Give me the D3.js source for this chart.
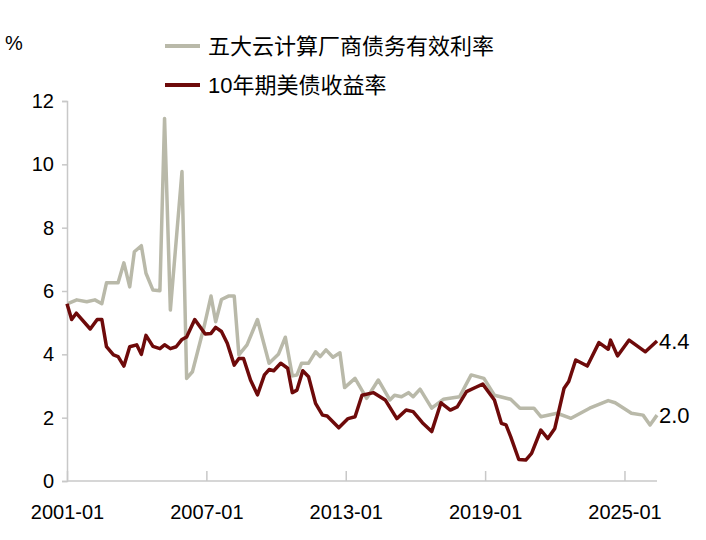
<!DOCTYPE html>
<html><head><meta charset="utf-8">
<script src="https://cdn.jsdelivr.net/npm/d3@7"></script>
<style>body{margin:0;background:#fff}text{font-family:Arial,"Liberation Sans","Noto Sans CJK SC",sans-serif}</style>
</head><body><svg id="c" width="706" height="540"></svg>
<script>
// decimal years
const cloudYears = [2001.06,2001.42,2001.85,2002.2,2002.5,2002.7,2003.2,2003.45,2003.7,2003.9,2004.2,2004.4,2004.7,2005.0,2005.2,2005.45,2005.95,2006.15,2006.4,2006.9,2007.2,2007.4,2007.65,2007.95,2008.2,2008.4,2008.75,2009.2,2009.7,2010.1,2010.4,2010.7,2010.9,2011.1,2011.4,2011.7,2011.9,2012.15,2012.45,2012.75,2012.95,2013.4,2013.9,2014.4,2014.9,2015.1,2015.4,2015.7,2015.9,2016.2,2016.7,2017.2,2017.9,2018.4,2018.95,2019.4,2020.1,2020.5,2021.1,2021.4,2022.1,2022.7,2023.5,2024.3,2024.6,2025.3,2025.8,2026.1,2026.4];
const cloudRate = [5.61,5.72,5.66,5.72,5.6,6.26,6.26,6.89,6.13,7.24,7.43,6.56,6.03,6.01,11.45,5.4,9.77,3.24,3.45,4.87,5.84,5.03,5.73,5.84,5.84,3.98,4.3,5.1,3.72,4.0,4.54,3.32,3.35,3.72,3.72,4.08,3.93,4.14,3.91,4.05,2.95,3.24,2.61,3.19,2.56,2.71,2.66,2.79,2.66,2.9,2.3,2.58,2.66,3.35,3.24,2.71,2.58,2.3,2.3,2.03,2.14,1.98,2.3,2.54,2.47,2.14,2.08,1.77,2.08];
const ustYears = [2001.0,2001.2,2001.4,2002.0,2002.3,2002.5,2002.7,2003.0,2003.2,2003.45,2003.7,2004.0,2004.2,2004.4,2004.7,2005.0,2005.2,2005.45,2005.7,2005.95,2006.15,2006.5,2006.95,2007.2,2007.4,2007.65,2007.9,2008.2,2008.4,2008.6,2008.9,2009.2,2009.5,2009.7,2009.9,2010.2,2010.5,2010.7,2010.9,2011.15,2011.4,2011.7,2012.0,2012.2,2012.7,2013.1,2013.4,2013.7,2014.2,2014.7,2015.2,2015.6,2015.9,2016.3,2016.7,2017.1,2017.5,2017.8,2018.2,2018.6,2018.9,2019.4,2019.7,2019.9,2020.1,2020.45,2020.75,2021.0,2021.4,2021.7,2022.0,2022.4,2022.6,2022.9,2023.4,2023.9,2024.3,2024.4,2024.7,2025.2,2025.9,2026.4];
const ustYield = [5.6,5.1,5.3,4.8,5.1,5.1,4.24,3.98,3.93,3.63,4.24,4.3,4.0,4.6,4.25,4.18,4.3,4.18,4.24,4.47,4.55,5.1,4.64,4.66,4.85,4.72,4.35,3.66,3.87,3.87,3.19,2.72,3.35,3.52,3.48,3.72,3.56,2.79,2.87,3.48,3.29,2.45,2.08,2.05,1.68,1.97,2.03,2.71,2.79,2.56,1.97,2.24,2.19,1.84,1.56,2.47,2.24,2.34,2.82,2.96,3.06,2.56,1.82,1.77,1.4,0.68,0.66,0.87,1.61,1.34,1.66,2.93,3.14,3.82,3.63,4.37,4.16,4.45,3.95,4.45,4.08,4.42];
const xTicks = [2001,2007,2013,2019,2025];
const xTickLabels = ["2001-01","2007-01","2013-01","2019-01","2025-01"];
const yTicks = [0,2,4,6,8,10,12];
const seriesNames = ["五大云计算厂商债务有效利率","10年期美债收益率"];
const endLabels = ["2.0","4.4"];

const svg = d3.select("#c");
const x = d3.scaleLinear().domain([2001,2026.4]).range([67,657]);
const y = d3.scaleLinear().domain([0,12]).range([481,101]);
const axisColor = "#c8c8c8";

const ya = svg.append("g").attr("transform","translate(67,0)")
  .call(d3.axisLeft(y).tickValues(yTicks).tickSize(5).tickPadding(8));
const xa = svg.append("g").attr("transform","translate(0,481)")
  .call(d3.axisBottom(x).tickValues(xTicks).tickFormat((d,i)=>xTickLabels[i]).tickSize(-10).tickPadding(24));
[ya,xa].forEach(g=>{
  g.select(".domain").attr("stroke",axisColor).attr("stroke-width",1.5);
  g.selectAll(".tick line").attr("stroke",axisColor).attr("stroke-width",1.5);
  g.selectAll("text").attr("font-size",20).attr("fill","#000");
});
xa.select(".domain").attr("d","M67,0H657");

const line = d3.line().x(d=>x(d[0])).y(d=>y(d[1]));
const colors = ["#b9b9a9","#6e0a0a"];
const data = [d3.zip(cloudYears,cloudRate), d3.zip(ustYears,ustYield)];
data.forEach((d,i)=>{
  svg.append("path").datum(d).attr("d",line).attr("fill","none")
    .attr("stroke",colors[i]).attr("stroke-width",3.5).attr("stroke-linejoin","round");
  const last = d[d.length-1];
  svg.append("text").attr("x",x(last[0])+2).attr("y",y(last[1])+8)
    .attr("font-size",22).text(endLabels[i]);
});

svg.append("text").attr("x",5).attr("y",50).attr("font-size",20).text("%");
seriesNames.forEach((n,i)=>{
  const ly = 46 + i*39;
  svg.append("line").attr("x1",165).attr("x2",200).attr("y1",ly).attr("y2",ly)
    .attr("stroke",colors[i]).attr("stroke-width",4);
  svg.append("text").attr("x",208).attr("y",ly+8).attr("font-size",22).text(n);
});
</script></body></html>
